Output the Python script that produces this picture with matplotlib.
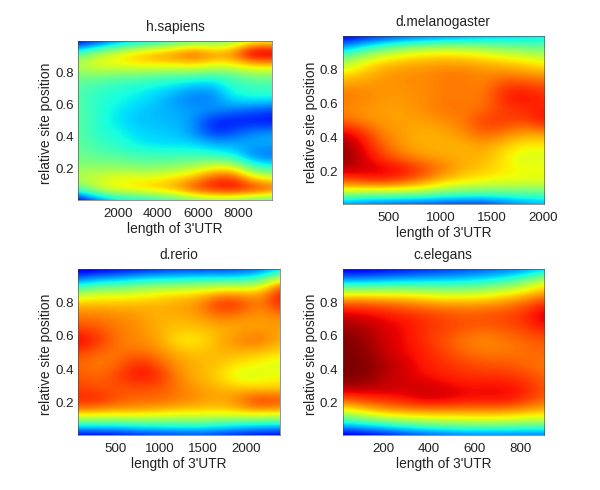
import numpy as np
from matplotlib import pyplot as plt

plt.rcParams['font.family'] = ['Liberation Sans', 'DejaVu Sans']

# values go from top row (position 1.0) to bottom row (position 0.0)
sapiens = [
    [.08, .15, .25, .30, .35, .40, .45, .45, .50, .60, .60],
    [.42, .55, .62, .70, .74, .78, .84, .76, .78, 1.0, .98],
    [.58, .65, .66, .67, .68, .68, .70, .66, .66, .72, .72],
    [.50, .50, .48, .48, .46, .45, .44, .42, .45, .50, .50],
    [.45, .42, .40, .38, .36, .34, .30, .30, .40, .42, .42],
    [.45, .40, .38, .36, .33, .28, .24, .25, .36, .38, .38],
    [.46, .40, .36, .33, .31, .29, .28, .28, .25, .22, .20],
    [.46, .40, .35, .32, .31, .31, .27, .15, .14, .14, .12],
    [.46, .40, .38, .34, .33, .32, .27, .16, .20, .26, .28],
    [.47, .42, .40, .36, .34, .34, .34, .30, .30, .30, .30],
    [.48, .46, .45, .43, .42, .42, .42, .40, .36, .24, .22],
    [.52, .52, .52, .50, .50, .52, .56, .62, .62, .42, .38],
    [.58, .60, .64, .64, .64, .68, .72, .84, .86, .68, .62],
    [.45, .60, .66, .68, .72, .74, .86, .90, .92, .90, .85],
    [.05, .20, .30, .32, .35, .40, .45, .48, .48, .42, .40],
]
melanogaster = [
    [.08, .12, .15, .18, .20, .22, .25, .28, .30, .32, .34],
    [.30, .40, .48, .54, .58, .60, .58, .56, .52, .50, .48],
    [.52, .62, .68, .70, .72, .72, .72, .70, .68, .66, .62],
    [.65, .70, .74, .76, .76, .78, .78, .76, .76, .74, .72],
    [.74, .75, .75, .76, .76, .78, .78, .77, .84, .84, .82],
    [.79, .77, .75, .75, .76, .78, .78, .78, .88, .90, .86],
    [.76, .75, .74, .74, .76, .79, .78, .79, .85, .86, .88],
    [.80, .76, .74, .74, .74, .76, .78, .85, .85, .84, .90],
    [.92, .86, .76, .74, .72, .73, .76, .82, .78, .74, .76],
    [.98, .90, .80, .74, .72, .72, .72, .74, .70, .66, .66],
    [1.0, .92, .84, .78, .74, .73, .72, .72, .66, .60, .62],
    [.95, .93, .92, .90, .84, .78, .72, .70, .66, .64, .64],
    [.82, .86, .88, .84, .78, .70, .67, .65, .64, .63, .63],
    [.58, .55, .55, .55, .54, .50, .48, .47, .47, .47, .47],
    [.22, .20, .18, .16, .15, .14, .14, .14, .20, .25, .28],
]
rerio = [
    [.06, .08, .10, .12, .14, .16, .16, .16, .18, .20, .30],
    [.28, .34, .36, .40, .42, .42, .44, .44, .44, .48, .70],
    [.55, .60, .60, .62, .65, .68, .68, .74, .74, .72, .90],
    [.72, .72, .72, .72, .72, .74, .76, .88, .86, .76, .88],
    [.78, .78, .76, .75, .72, .72, .74, .78, .76, .74, .76],
    [.84, .82, .78, .76, .72, .70, .70, .72, .73, .74, .74],
    [.92, .86, .78, .76, .74, .65, .66, .72, .77, .80, .72],
    [.84, .80, .78, .80, .76, .72, .70, .72, .72, .70, .68],
    [.80, .77, .80, .88, .82, .74, .72, .70, .66, .64, .60],
    [.82, .80, .84, .90, .87, .76, .72, .68, .60, .62, .65],
    [.84, .82, .82, .82, .82, .78, .74, .72, .70, .68, .68],
    [.88, .88, .82, .80, .80, .78, .76, .73, .78, .88, .84],
    [.74, .72, .72, .72, .70, .68, .68, .68, .70, .72, .70],
    [.42, .42, .42, .44, .44, .45, .45, .42, .40, .38, .38],
    [.08, .08, .10, .12, .14, .15, .16, .14, .12, .10, .08],
]
elegans = [
    [.08, .08, .10, .12, .14, .16, .18, .20, .22, .24, .30],
    [.30, .30, .32, .33, .34, .35, .36, .38, .42, .50, .62],
    [.62, .62, .62, .62, .60, .58, .58, .60, .64, .68, .74],
    [.84, .84, .82, .80, .78, .76, .76, .76, .78, .82, .88],
    [.94, .92, .90, .88, .86, .84, .82, .83, .84, .86, .94],
    [.98, .96, .92, .90, .86, .84, .82, .80, .82, .84, .88],
    [1.0, .98, .93, .90, .86, .82, .78, .76, .78, .80, .82],
    [1.0, .99, .94, .90, .88, .84, .80, .78, .78, .79, .80],
    [1.0, 1.0, .96, .93, .88, .86, .84, .82, .82, .80, .78],
    [1.0, 1.0, .95, .92, .90, .88, .86, .86, .86, .84, .80],
    [.96, .95, .94, .93, .93, .92, .90, .90, .90, .88, .82],
    [.80, .84, .86, .88, .93, .92, .90, .90, .90, .86, .80],
    [.60, .66, .72, .74, .74, .74, .74, .74, .74, .72, .70],
    [.34, .38, .42, .46, .50, .52, .54, .54, .54, .52, .52],
    [.06, .08, .10, .14, .16, .18, .20, .20, .20, .20, .20],
]

names = ['h.sapiens', 'd.melanogaster', 'd.rerio', 'c.elegans']
grids = [sapiens, melanogaster, rerio, elegans]
x_ranges = [(20, 9700), (46, 2012), (62, 2386), (22, 902)]
x_ticks = [[2000, 4000, 6000, 8000], [500, 1000, 1500, 2000],
           [500, 1000, 1500, 2000], [200, 400, 600, 800]]
y_ticks = [0.2, 0.4, 0.6, 0.8]

# axes boxes in pixels: left, top, right, bottom
boxes = [(78, 41, 272, 200), (342.5, 36, 544, 204),
         (78, 269, 279.5, 435), (342.5, 269, 544, 435)]

W, H = 600, 490
fig = plt.figure(figsize=(W / 100, H / 100), dpi=100)

for i in range(4):
    l, t, r, b = boxes[i]
    ax = fig.add_axes([l / W, 1 - b / H, (r - l) / W, (b - t) / H])
    z = np.array(grids[i])
    x0, x1 = x_ranges[i]
    # half a cell extra so the first and last rows sit right on the axes edge
    dx = (x1 - x0) / (z.shape[1] - 1) / 2
    dy = 1.0 / (z.shape[0] - 1) / 2
    ax.imshow(z, cmap='jet', vmin=0, vmax=1, aspect='auto',
              interpolation='bicubic', origin='upper',
              extent=[x0 - dx, x1 + dx, 0 - dy, 1 + dy])
    ax.set_xlim(x0, x1)
    ax.set_ylim(0.005, 1.0)
    ax.set_xticks(x_ticks[i])
    ax.set_yticks(y_ticks)
    ax.tick_params(axis='x', length=0, labelsize=9.6, pad=6, colors='#222222')
    ax.tick_params(axis='y', length=0, labelsize=9.6, pad=3, colors='#222222')
    ax.set_title(names[i], fontsize=9.9, pad=7, color='#222222')
    ax.set_xlabel("length of 3'UTR", fontsize=9.9, labelpad=1, color='#222222')
    ax.set_ylabel('relative site position', fontsize=9.9, labelpad=1.5, y=0.485, color='#222222')
    for s in ax.spines.values():
        s.set_linewidth(0.4)
        s.set_color('#444444')

fig.savefig('out.png', dpi=100)
